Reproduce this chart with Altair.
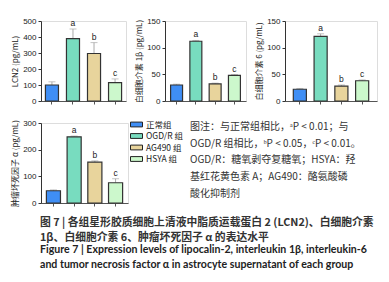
import altair as alt
import pandas as pd

groups = ["正常组", "OGD/R 组", "AG490 组", "HSYA 组"]
colors = ["#3f8ef5", "#78dcbf", "#e8d49c", "#ccf8cc"]
sig = ["", "a", "b", "c"]

lcn2 = [100, 390, 297, 115]
lcn2_err = [20, 60, 68, 23]
il1b = [30, 112, 32, 48]
il1b_err = [1.5, 1.5, 1.5, 1.5]
il6 = [22, 121, 28, 38]
il6_err = [1.5, 5, 2, 1.5]
tnf = [46, 248, 153, 76]
tnf_err = [3, 3, 5, 15]

note_lines = [
    "图注：与正常组相比，ᵃP < 0.01；与",
    "OGD/R 组相比，ᵇP < 0.05，ᶜP < 0.01。",
    "OGD/R：糖氧剥夺复糖氧；HSYA：羟",
    "基红花黄色素 A；AG490：酪氨酸磷",
    "酸化抑制剂",
]
caption_cn = [
    "图 7  |  各组星形胶质细胞上清液中脂质运载蛋白 2 (LCN2)、白细胞介素",
    "1β、白细胞介素 6、肿瘤坏死因子 α 的表达水平",
]
caption_en = [
    "Figure 7  |  Expression levels of lipocalin-2, interleukin 1β, interleukin-6",
    "and tumor necrosis factor α in astrocyte supernatant of each group",
]

CJK = "Noto Sans CJK SC"
NUM = "Liberation Sans"


def panel(vals, errs, title, ymax, ticks, width, po, pi, legend=None, extra=None):
    df = pd.DataFrame({
        "group": groups,
        "value": vals,
        "top": [v + e for v, e in zip(vals, errs)],
        "sig": sig,
    })
    base = alt.Chart(df)
    x = alt.X("group:N", sort=groups,
              scale=alt.Scale(paddingInner=pi, paddingOuter=po),
              axis=alt.Axis(labels=False, title=None, tickSize=3,
                            domainColor="#555", tickColor="#555"))
    yscale = alt.Scale(domain=[0, ymax], nice=False)
    yaxis = alt.Axis(values=ticks, title=title, tickSize=3, grid=False,
                     labelFont=NUM, labelFontSize=8, labelColor="#222",
                     titleFont=CJK, titleFontSize=8, titleFontWeight="normal",
                     titleColor="#222", titlePadding=3, labelPadding=2,
                     domainColor="#333", tickColor="#333")
    bars = base.mark_bar(stroke="#333", strokeWidth=1.2).encode(
        x=x,
        y=alt.Y("value:Q", scale=yscale, axis=yaxis),
        fill=alt.Fill("group:N", sort=groups,
                      scale=alt.Scale(domain=groups, range=colors),
                      legend=legend),
    )
    rule = base.mark_rule(color="#aaa", strokeWidth=1).encode(
        x=x,
        y=alt.Y("value:Q", scale=yscale, axis=yaxis),
        y2="top:Q",
    )
    cap = base.mark_tick(color="#aaa", size=7, thickness=1).encode(
        x=x, y=alt.Y("top:Q", scale=yscale, axis=yaxis))
    txt = base.mark_text(dy=-6, font=NUM, fontSize=8.5, color="#222").encode(
        x=x, y=alt.Y("top:Q", scale=yscale, axis=yaxis), text="sig:N")
    layers = [rule, cap, bars, txt]
    if extra is not None:
        layers.append(extra)
    return alt.layer(*layers).properties(width=width, height=80)


legend = alt.Legend(orient="none", legendX=89, legendY=-5, title=None,
                    symbolType="M-1,-0.4H1V0.4H-1Z", symbolSize=144,
                    symbolStrokeColor="#222", symbolStrokeWidth=1,
                    labelFont=CJK, labelFontSize=8.5, labelColor="#222",
                    rowPadding=0.5, labelOffset=3)

note = alt.Chart(pd.DataFrame({"t": ["\n".join(note_lines)]})).mark_text(
    align="left", baseline="top", lineBreak="\n", lineHeight=16.7,
    font=CJK, fontSize=10, color="#333"
).encode(x=alt.value(149), y=alt.value(-1), text="t:N")

p1 = panel(lcn2, lcn2_err, "LCN2 (pg/mL)", 500, [0, 100, 200, 300, 400, 500], 85, 0.21, 0.38)
p2 = panel(il1b, il1b_err, "白细胞介素 1β (pg/mL)", 150, [0, 50, 100, 150], 81, 0.29, 0.38)
p3 = panel(il6, il6_err, "白细胞介素 6 (pg/mL)", 150, [0, 50, 100, 150], 92, 0.4, 0.37)
p4 = panel(tnf, tnf_err, "肿瘤坏死因子 α (pg/mL)", 300, [0, 100, 200, 300], 87, 0.26, 0.32,
           legend=legend, extra=note)

top = alt.hconcat(p1, p2, p3, spacing=8).resolve_scale(
    x="independent", y="independent", fill="independent")

chart = alt.vconcat(top, p4, spacing=11).resolve_scale(
    x="independent", y="independent", fill="independent"
).properties(
    padding={"left": 11, "top": 16, "right": 0, "bottom": 0},
    title=alt.TitleParams(
        text=caption_cn, subtitle=caption_en, orient="bottom", anchor="start",
        frame="group", font=CJK, fontSize=10.8, fontWeight="bold", color="#333",
        lineHeight=15, subtitleFont="Lato", subtitleFontSize=10.6,
        subtitleFontWeight="bold", subtitleColor="#222", subtitleLineHeight=15,
        subtitlePadding=3, offset=9, dx=-1),
).configure_view(stroke=None).configure(background="white")

chart.save("out.html", embed_options={"renderer": "svg", "actions": False})
